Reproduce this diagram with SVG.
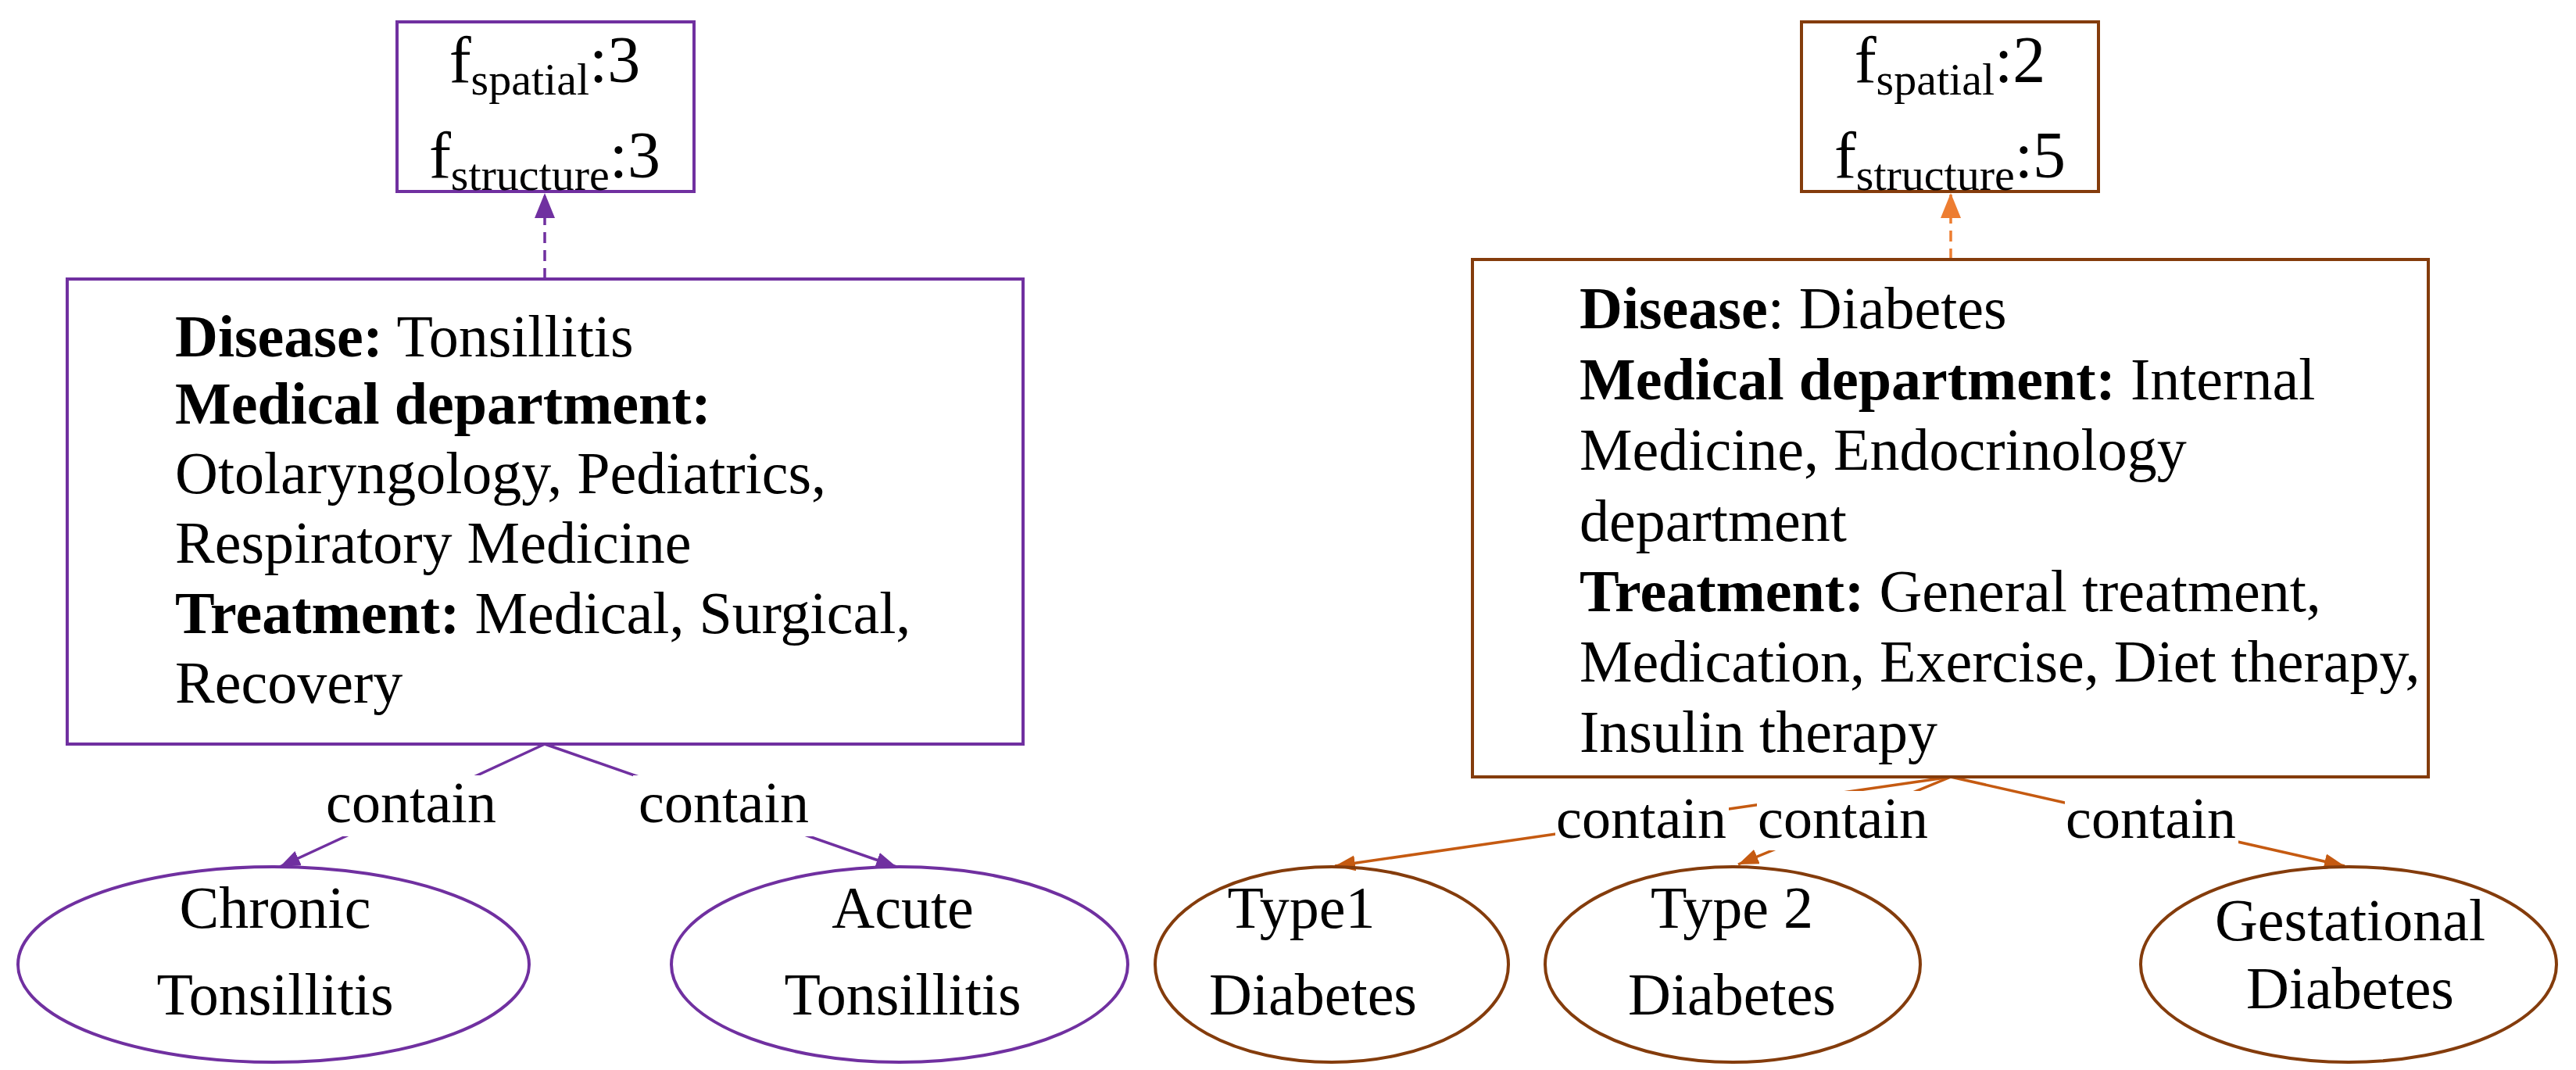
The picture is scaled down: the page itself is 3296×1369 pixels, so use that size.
<svg xmlns="http://www.w3.org/2000/svg" width="3296" height="1369" viewBox="0 0 3296 1369">
<style>
text{font-family:"Liberation Serif","Times New Roman",serif;fill:#000}
.t{font-size:76px}
.f{font-size:84px;text-anchor:middle}
.s{font-size:58px}
.lab{font-size:74px;text-anchor:middle}
.c{text-anchor:middle}
.p{fill:none;stroke:#7030A0;stroke-width:4}
.b{fill:none;stroke:#843C0C;stroke-width:4}
.pe{fill:none;stroke:#7030A0;stroke-width:3.5}
.oe{fill:none;stroke:#C55A11;stroke-width:3.5}
</style>
<defs>
<marker id="apb" markerWidth="32" markerHeight="26" refX="32" refY="13" orient="auto" markerUnits="userSpaceOnUse"><path d="M0,0L32,13L0,26z" fill="#7030A0"/></marker>
<marker id="aob" markerWidth="32" markerHeight="26" refX="32" refY="13" orient="auto" markerUnits="userSpaceOnUse"><path d="M0,0L32,13L0,26z" fill="#ED7D31"/></marker>
<marker id="apm" markerWidth="26" markerHeight="20" refX="26" refY="10" orient="auto" markerUnits="userSpaceOnUse"><path d="M0,0L26,10L0,20z" fill="#7030A0"/></marker>
<marker id="aom" markerWidth="26" markerHeight="20" refX="26" refY="10" orient="auto" markerUnits="userSpaceOnUse"><path d="M0,0L26,10L0,20z" fill="#C55A11"/></marker>
</defs>
<g id="connectors">
<line x1="697" y1="357" x2="697" y2="247" stroke="#7030A0" stroke-width="3.5" stroke-dasharray="14,9" marker-end="url(#apb)"/>
<line x1="2496" y1="332" x2="2496" y2="247" stroke="#ED7D31" stroke-width="3.5" stroke-dasharray="14,9" marker-end="url(#aob)"/>
<line class="pe" x1="697" y1="952" x2="358" y2="1109" marker-end="url(#apm)"/>
<line class="pe" x1="697" y1="952" x2="1147" y2="1109" marker-end="url(#apm)"/>
<line class="oe" x1="2496" y1="994" x2="1708" y2="1108" marker-end="url(#aom)"/>
<line class="oe" x1="2496" y1="994" x2="2224" y2="1106" marker-end="url(#aom)"/>
<line class="oe" x1="2496" y1="994" x2="3000" y2="1108" marker-end="url(#aom)"/>
<g fill="#fff">
<rect x="410" y="992" width="232" height="78"/>
<rect x="810" y="992" width="232" height="78"/>
<rect x="1990" y="1012" width="222" height="76"/>
<rect x="2248" y="1012" width="222" height="76"/>
<rect x="2642" y="1012" width="222" height="76"/>
</g>
<text class="lab" x="526" y="1052">contain</text>
<text class="lab" x="926" y="1052">contain</text>
<text class="lab" x="2100" y="1072">contain</text>
<text class="lab" x="2358" y="1072">contain</text>
<text class="lab" x="2752" y="1072">contain</text>
</g>
<g id="score1">
<rect class="p" x="508" y="28" width="380" height="217"/>
<text class="f" x="697" y="105">f<tspan class="s" dy="16">spatial</tspan><tspan dy="-16">:3</tspan></text>
<text class="f" x="697" y="227">f<tspan class="s" dy="16">structure</tspan><tspan dy="-16">:3</tspan></text>
</g>
<g id="tonsillitis">
<rect class="p" x="86" y="357" width="1223" height="595"/>
<text class="t" x="224" y="456"><tspan font-weight="bold">Disease:</tspan> Tonsillitis</text>
<text class="t" x="224" y="542" font-weight="bold">Medical department:</text>
<text class="t" x="224" y="631">Otolaryngology, Pediatrics,</text>
<text class="t" x="224" y="720">Respiratory Medicine</text>
<text class="t" x="224" y="810"><tspan font-weight="bold">Treatment:</tspan> Medical, Surgical,</text>
<text class="t" x="224" y="899">Recovery</text>
</g>
<g id="chronic">
<ellipse class="p" cx="350" cy="1234" rx="327" ry="125"/>
<text class="t c" x="352" y="1187">Chronic</text>
<text class="t c" x="352" y="1298">Tonsillitis</text>
</g>
<g id="acute">
<ellipse class="p" cx="1151" cy="1234" rx="292" ry="125"/>
<text class="t c" x="1155" y="1187">Acute</text>
<text class="t c" x="1155" y="1298">Tonsillitis</text>
</g>
<g id="score2">
<rect class="b" x="2305" y="28" width="380" height="217"/>
<text class="f" x="2495" y="105">f<tspan class="s" dy="16">spatial</tspan><tspan dy="-16">:2</tspan></text>
<text class="f" x="2495" y="227">f<tspan class="s" dy="16">structure</tspan><tspan dy="-16">:5</tspan></text>
</g>
<g id="diabetes">
<rect class="b" x="1884" y="332" width="1223" height="662"/>
<text class="t" x="2021" y="420"><tspan font-weight="bold">Disease</tspan>: Diabetes</text>
<text class="t" x="2021" y="511"><tspan font-weight="bold">Medical department:</tspan> Internal</text>
<text class="t" x="2021" y="601">Medicine, Endocrinology</text>
<text class="t" x="2021" y="692">department</text>
<text class="t" x="2021" y="782"><tspan font-weight="bold">Treatment:</tspan> General treatment,</text>
<text class="t" x="2021" y="872">Medication, Exercise, Diet therapy,</text>
<text class="t" x="2021" y="962">Insulin therapy</text>
</g>
<g id="type1">
<ellipse class="b" cx="1704" cy="1234" rx="226" ry="125"/>
<text class="t c" x="1665" y="1187">Type1</text>
<text class="t c" x="1680" y="1298">Diabetes</text>
</g>
<g id="type2">
<ellipse class="b" cx="2217" cy="1234" rx="240" ry="125"/>
<text class="t c" x="2216" y="1187">Type 2</text>
<text class="t c" x="2216" y="1298">Diabetes</text>
</g>
<g id="gestational">
<ellipse class="b" cx="3005" cy="1234" rx="266" ry="125"/>
<text class="t c" x="3007" y="1203">Gestational</text>
<text class="t c" x="3007" y="1290">Diabetes</text>
</g>
</svg>
